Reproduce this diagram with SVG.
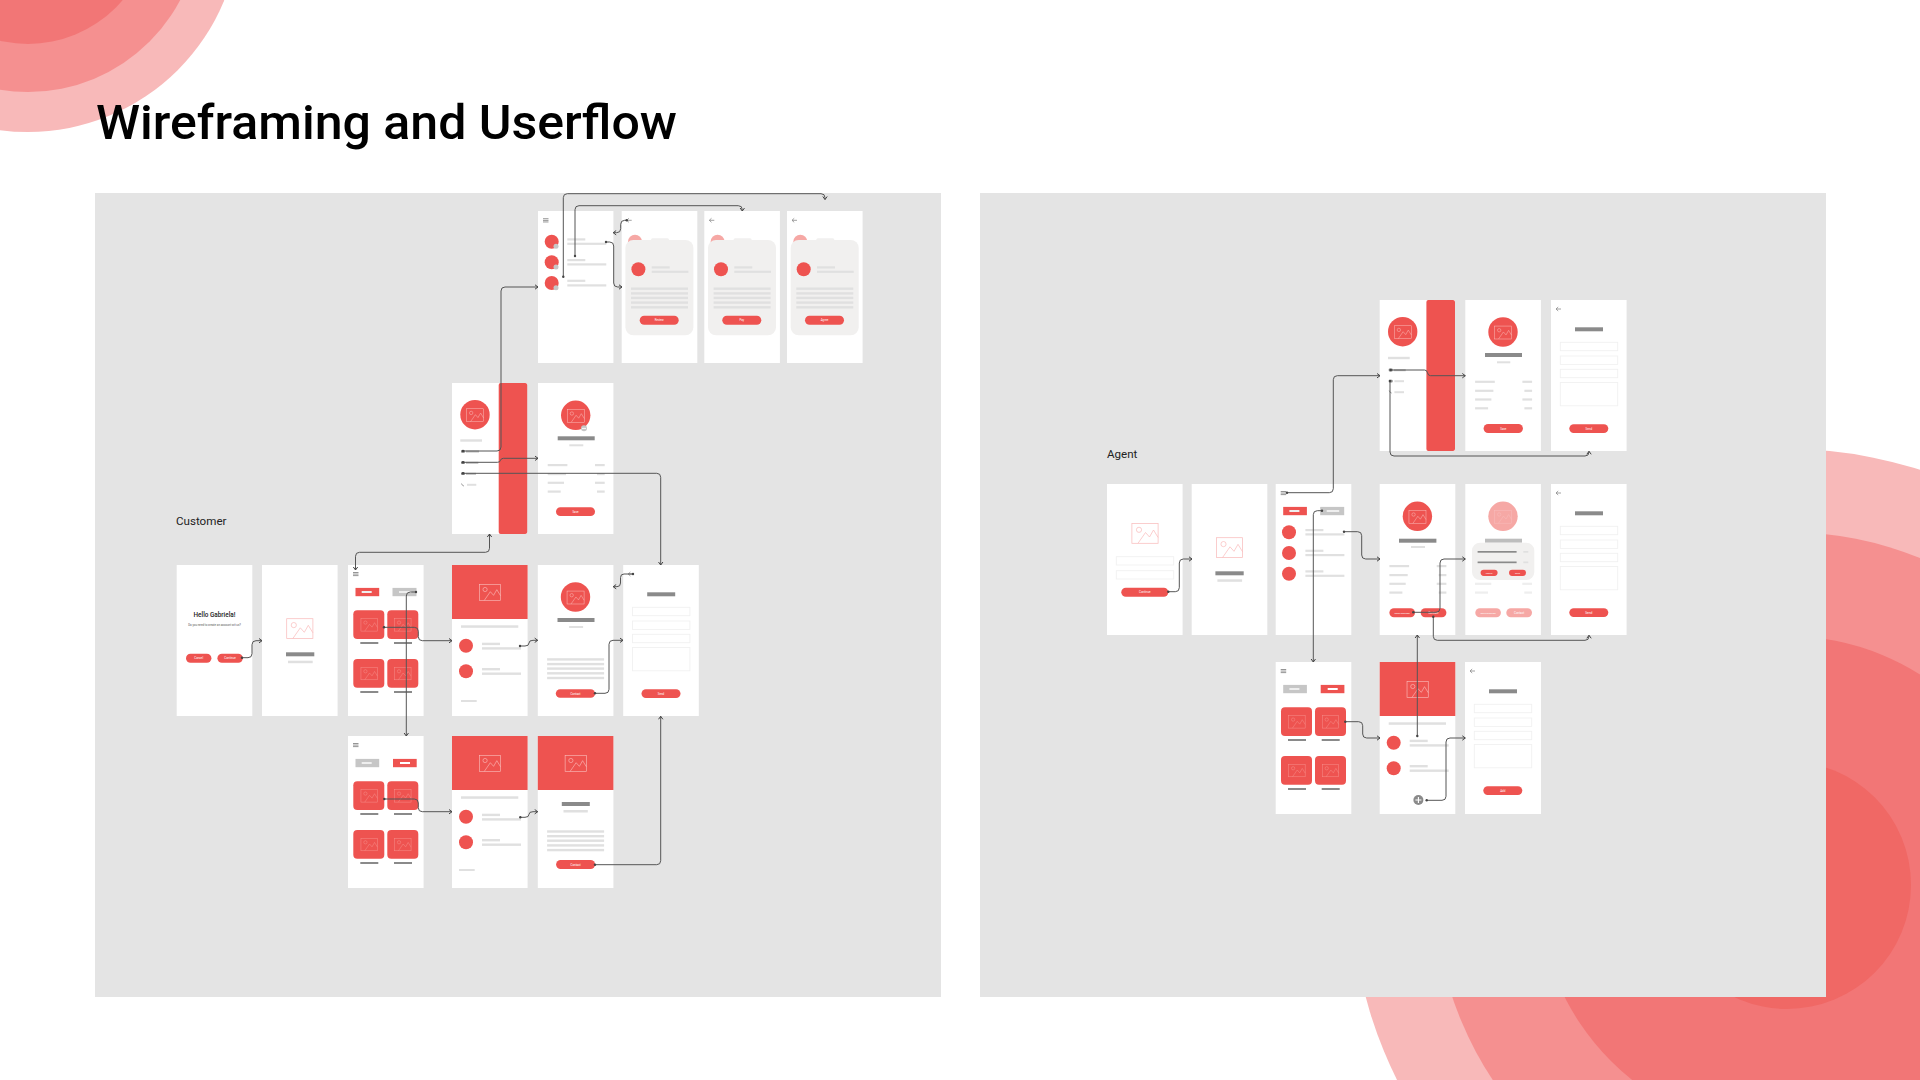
<svg xmlns="http://www.w3.org/2000/svg" width="1920" height="1080" viewBox="0 0 1920 1080">
<style>
text{font-family:"Roboto","Noto Sans",sans-serif}
.scr{fill:#fff}
.red{fill:#EE5350}
.pale{fill:#F6A8A5}
.dk{fill:#8A8A8A}
.md{fill:#BDBDBD}
.gr{fill:#C6C6C6}
.lt{fill:#E0E0E0}
.xl{fill:#EEEEEE}
.wb{fill:#fff}
.card{fill:#F1F0EF}
.inp{fill:#fff;stroke:#F1F1F1;stroke-width:.9}
.ic{fill:none;stroke-width:.75;vector-effect:non-scaling-stroke}
.iw{stroke:#F9BDBD}
.ip{stroke:#FBC0BE}
.id{stroke:#F7918E}
.bt{fill:#fff;font-size:2.9px;text-anchor:middle}
.lab{fill:#222;font-size:11.6px}
.cn{fill:none;stroke:#555;stroke-width:1;marker-end:url(#arr);marker-start:url(#dot)}
</style>
<defs>
<marker id="arr" markerUnits="userSpaceOnUse" markerWidth="6" markerHeight="6" refX="4" refY="3" orient="auto"><path d="M1 .8L4 3L1 5.2" fill="none" stroke="#444" stroke-width="1"/></marker>
<marker id="arrs" markerUnits="userSpaceOnUse" markerWidth="6" markerHeight="6" refX="4" refY="3" orient="auto-start-reverse"><path d="M1 .8L4 3L1 5.2" fill="none" stroke="#444" stroke-width="1"/></marker>
<marker id="dot" markerUnits="userSpaceOnUse" markerWidth="4" markerHeight="4" refX="2" refY="2"><circle cx="2" cy="2" r="1.2" fill="#444"/></marker>
<g id="ico" class="ic"><rect x=".4" y=".4" width="26.2" height="19.9"/><circle cx="7.5" cy="6.8" r="2.6"/><path d="M6.5 20.3L14 9.5L18 14L22 7L26.6 14.5"/></g>
<g id="menu"><rect class="dk" x="0" y="0" width="5.5" height=".9"/><rect class="dk" x="0" y="1.6" width="5.5" height=".9"/><rect class="dk" x="0" y="3.2" width="5.5" height=".9"/></g>
<path id="back" d="M5 0H0M2.2-2L0 0L2.2 2" fill="none" stroke="#8A8A8A" stroke-width=".8"/>
<g id="cards">
<rect class="red" x="5.3" y="45.3" width="31" height="28.7" rx="4"/><rect class="red" x="39.3" y="45.3" width="31" height="28.7" rx="4"/>
<rect class="red" x="5.3" y="94" width="31" height="28.7" rx="4"/><rect class="red" x="39.3" y="94" width="31" height="28.7" rx="4"/>
<use href="#ico" class="id" transform="translate(12.7 53.3) scale(.63)"/><use href="#ico" class="id" transform="translate(46.3 53.3) scale(.63)"/>
<use href="#ico" class="id" transform="translate(12.7 102) scale(.63)"/><use href="#ico" class="id" transform="translate(46.3 102) scale(.63)"/>
<rect class="dk" x="12.3" y="77" width="18" height="2"/><rect class="dk" x="46" y="77" width="18" height="2"/>
<rect class="dk" x="12.3" y="126" width="18" height="2"/><rect class="dk" x="46" y="126" width="18" height="2"/>
</g>
<g id="hdr"><rect class="red" x="0" y="0" width="75.6" height="54"/><use href="#ico" class="ip" transform="translate(27 19) scale(.81)"/></g>
<g id="detail">
<use href="#hdr"/>
<rect class="lt" x="9" y="60.3" width="57.3" height="2.5"/>
<circle class="red" cx="14" cy="80.7" r="7"/><circle class="red" cx="14" cy="106.3" r="7"/>
<rect class="lt" x="30" y="77.7" width="18" height="2.4"/><rect class="lt" x="30" y="82.2" width="39" height="2.4"/>
<rect class="lt" x="30" y="103" width="18" height="2.4"/><rect class="lt" x="30" y="107.5" width="39" height="2.4"/>
</g>
<g id="form">
<rect class="dk" x="24" y="27.3" width="28" height="4"/>
<rect class="inp" x="9.3" y="42.3" width="57.4" height="8.4"/><rect class="inp" x="9.3" y="56" width="57.4" height="8.4"/>
<rect class="inp" x="9.3" y="69.3" width="57.4" height="8.4"/><rect class="inp" x="9.3" y="82.5" width="57.4" height="23.3"/>
<rect class="red" x="18.3" y="124.2" width="39" height="8.8" rx="4.4"/>
</g>
<g id="lines5">
<rect class="lt" x="0" y="0" width="57" height="2.4"/><rect class="lt" x="0" y="4.7" width="57" height="2.4"/><rect class="lt" x="0" y="9.2" width="57" height="2.4"/><rect class="lt" x="0" y="13.9" width="57" height="2.4"/><rect class="lt" x="0" y="18.6" width="57" height="2.4"/>
</g>
<g id="rows">
<rect class="lt" x="0" y="0" width="19.7" height="2.2"/><rect class="lt" x="0" y="9" width="18.3" height="2.2"/><rect class="lt" x="0" y="17.7" width="16.3" height="2.2"/><rect class="lt" x="0" y="26.5" width="13" height="2.2"/>
<rect class="lt" x="47.3" y="0" width="9.7" height="2.2"/><rect class="lt" x="49.3" y="9" width="7.7" height="2.2"/><rect class="lt" x="47.3" y="17.7" width="9.7" height="2.2"/><rect class="lt" x="49.3" y="26.5" width="7.7" height="2.2"/>
</g>
<g id="notif">
<use href="#back" transform="translate(5 9.3)"/>
<circle class="pale" cx="13.3" cy="30.7" r="7"/>
<rect class="card" x="29.3" y="27.3" width="18" height="6" rx="1.5"/>
<rect class="card" x="3.7" y="29" width="68" height="95.3" rx="8"/>
<circle class="red" cx="16.7" cy="58.3" r="7"/>
<rect class="lt" x="30" y="55.3" width="18" height="2.2"/><rect class="lt" x="30" y="59.7" width="36.7" height="2.2"/>
<use href="#lines5" transform="translate(9.3 76.5)"/>
<rect class="red" x="18" y="104.7" width="39" height="9" rx="4.5"/>
</g>
<g id="tabs1"><use href="#menu" transform="translate(5 7)"/><rect class="red" x="7.5" y="22.9" width="23.7" height="8.3"/><rect class="xl" x="13.7" y="26" width="10" height="2"/><rect class="gr" x="44.5" y="22.9" width="24" height="8.3"/><rect class="xl" x="51" y="26" width="12.5" height="2"/></g>
<g id="tabs2"><use href="#menu" transform="translate(5 7)"/><rect class="gr" x="7.5" y="22.9" width="23.7" height="8.3"/><rect class="xl" x="13.7" y="26" width="10" height="2"/><rect class="red" x="45" y="22.9" width="23.7" height="8.3"/><rect class="wb" x="52" y="26" width="10" height="2"/></g>
<g id="pic"><circle class="red" cx="14.7" cy="14.7" r="14.7"/><use href="#ico" class="ip" transform="translate(6 8.5) scale(.65)"/></g>
</defs>

<g id="background">
<circle cx="28" cy="-80" r="212" fill="#F8B9B9"/><circle cx="28" cy="-80" r="172" fill="#F59090"/><circle cx="28" cy="-80" r="124" fill="#F27676"/>
<circle cx="1787" cy="885" r="436" fill="#F8B9B9"/><circle cx="1787" cy="885" r="353" fill="#F59090"/><circle cx="1787" cy="885" r="249" fill="#F27676"/><circle cx="1787" cy="885" r="124" fill="#F06865"/>
</g>
<text id="title" x="96" y="139" font-size="49" font-weight="500" fill="#000" textLength="581" lengthAdjust="spacingAndGlyphs">Wireframing and Userflow</text>
<rect id="panel-customer" x="95" y="193" width="846" height="804" fill="#E4E4E4"/>
<rect id="panel-agent" x="980" y="193" width="846" height="804" fill="#E4E4E4"/>
<text class="lab" x="176" y="525">Customer</text>
<text class="lab" x="1107" y="458">Agent</text>

<g id="c-welcome" transform="translate(176.7 565)"><rect class="scr" width="75.6" height="151"/>
<text x="37.8" y="52.3" font-size="6.4" font-weight="500" text-anchor="middle" fill="#222">Hello Gabriela!</text>
<text x="37.8" y="60.8" font-size="2.9" text-anchor="middle" fill="#555">Do you need to create an account wit us?</text>
<rect class="red" x="9.3" y="88.7" width="25.4" height="9" rx="4.5"/><text class="bt" x="22" y="94.2">Cancel</text>
<rect class="red" x="40.7" y="88.7" width="25.4" height="9" rx="4.5"/><text class="bt" x="53.4" y="94.2">Continue</text></g>

<g id="c-splash" transform="translate(262 565)"><rect class="scr" width="75.6" height="151"/>
<use href="#ico" class="iw" transform="translate(24.3 53.3)"/><rect class="dk" x="24" y="87.3" width="28.3" height="4"/><rect class="lt" x="26" y="95.7" width="24.7" height="2.5"/></g>

<g id="c-home" transform="translate(348 565)"><rect class="scr" width="75.6" height="151"/><use href="#tabs1"/><use href="#cards"/></g>
<g id="c-detail" transform="translate(452 565)"><rect class="scr" width="75.6" height="151"/><use href="#detail"/><rect class="lt" x="9" y="135" width="15.7" height="2"/></g>
<g id="c-profile" transform="translate(537.8 565)"><rect class="scr" width="75.6" height="151"/>
<use href="#pic" transform="translate(23 17.3)"/><rect class="dk" x="19.7" y="53" width="37" height="4"/><rect class="lt" x="31.3" y="61" width="14" height="2"/>
<use href="#lines5" transform="translate(9.3 93.2)"/><rect class="red" x="18" y="124.2" width="39.3" height="8.6" rx="4.3"/><text class="bt" x="37.7" y="129.5">Contact</text></g>
<g id="c-form" transform="translate(623.2 565)"><rect class="scr" width="75.6" height="151"/><use href="#back" transform="translate(5 9)"/><use href="#form"/><text class="bt" x="37.8" y="129.6">Send</text></g>

<g id="c-home2" transform="translate(348 736)"><rect class="scr" width="75.6" height="152"/><use href="#tabs2"/><use href="#cards"/></g>
<g id="c-detail2" transform="translate(452 736)"><rect class="scr" width="75.6" height="152"/><use href="#detail"/><rect class="lt" x="7" y="133" width="15.7" height="2"/></g>
<g id="c-info" transform="translate(537.8 736)"><rect class="scr" width="75.6" height="152"/><use href="#hdr"/>
<rect class="dk" x="24" y="66" width="28" height="4"/><rect class="lt" x="25.7" y="74" width="24.3" height="2.5"/>
<use href="#lines5" transform="translate(9.3 94.3)"/><rect class="red" x="18.3" y="124" width="39" height="9" rx="4.5"/><text class="bt" x="37.8" y="129.5">Contact</text></g>

<g id="c-drawer" transform="translate(452 383)"><rect class="scr" width="75" height="151"/>
<rect class="red" x="46.7" y="0" width="28.5" height="151" rx="2"/>
<use href="#pic" transform="translate(8.3 17)"/><rect class="lt" x="8.3" y="56.3" width="21.7" height="2.4"/>
<rect class="md" x="14" y="67.5" width="13" height="2"/><rect class="md" x="14" y="78.8" width="12.3" height="2"/><rect class="md" x="14" y="89.8" width="10" height="2"/><rect class="lt" x="15" y="100.8" width="9.3" height="2"/>
<rect class="dk" x="9" y="67" width="4" height="2.8" rx="1"/><rect class="dk" x="9" y="78.3" width="4" height="2.8" rx="1"/><rect class="dk" x="9" y="89.3" width="4" height="2.8" rx="1"/>
<path d="M9.5 100.5q.3 2 2.5 2.6" fill="none" stroke="#8A8A8A" stroke-width=".8"/></g>
<g id="c-edit" transform="translate(538 383)"><rect class="scr" width="75.4" height="151"/>
<use href="#pic" transform="translate(23 17.6)"/><circle class="gr" cx="46" cy="45.3" r="3"/><rect class="wb" x="44" y="44.9" width="4" height=".9"/>
<rect class="dk" x="19.7" y="53.3" width="37" height="4"/><rect class="lt" x="31.3" y="61.3" width="14" height="2"/>
<use href="#rows" transform="translate(9.7 81)"/><rect class="red" x="18" y="124.3" width="39" height="8.8" rx="4.4"/><text class="bt" x="37.5" y="129.7">Save</text></g>

<g id="c-list" transform="translate(538 211)"><rect class="scr" width="75.4" height="152"/><use href="#menu" transform="translate(5 7.3)"/>
<circle class="red" cx="13.7" cy="30.7" r="7"/><circle class="red" cx="13.7" cy="51.3" r="7"/><circle class="red" cx="13.7" cy="72" r="7"/>
<circle class="gr" cx="18" cy="35.3" r="2.5"/><circle class="gr" cx="18" cy="56" r="2.5"/><circle class="gr" cx="18" cy="76.7" r="2.5"/>
<rect class="lt" x="29.3" y="27.3" width="18" height="2.2"/><rect class="lt" x="29.3" y="31.7" width="39" height="2.2"/>
<rect class="lt" x="29.3" y="48" width="18" height="2.2"/><rect class="lt" x="29.3" y="52.3" width="39" height="2.2"/>
<rect class="lt" x="29.3" y="68.7" width="18" height="2.2"/><rect class="lt" x="29.3" y="73.3" width="39" height="2.2"/></g>
<g id="c-review" transform="translate(621.7 211)"><rect class="scr" width="75.6" height="152"/><use href="#notif"/><text class="bt" x="37.5" y="110.3">Review</text></g>
<g id="c-pay" transform="translate(704.3 211)"><rect class="scr" width="75.6" height="152"/><use href="#notif"/><text class="bt" x="37.5" y="110.3">Pay</text></g>
<g id="c-agree" transform="translate(787 211)"><rect class="scr" width="75.6" height="152"/><use href="#notif"/><text class="bt" x="37.5" y="110.3">Agree</text></g>

<g id="a-drawer" transform="translate(1379.7 300)"><rect class="scr" width="75.3" height="151"/>
<rect class="red" x="46.7" y="0" width="28.6" height="151" rx="2"/>
<use href="#pic" transform="translate(8.3 17)"/><rect class="lt" x="8.3" y="56.8" width="21.7" height="2.4"/>
<rect class="md" x="14" y="69.2" width="12" height="2"/><rect class="lt" x="14.7" y="80.2" width="9.6" height="2"/><rect class="lt" x="14.7" y="91.2" width="9.6" height="2"/>
<rect class="dk" x="9" y="68.6" width="4" height="2.8" rx="1"/><rect class="dk" x="9" y="79.7" width="4" height="2.8" rx="1"/>
<path d="M9.5 90.5q.3 2 2.5 2.6" fill="none" stroke="#8A8A8A" stroke-width=".8"/></g>
<g id="a-edit" transform="translate(1465.3 300)"><rect class="scr" width="75.6" height="151"/>
<use href="#pic" transform="translate(23 17.3)"/><rect class="dk" x="19.7" y="53" width="37" height="4"/><rect class="lt" x="31.7" y="61.3" width="13.3" height="2"/>
<use href="#rows" transform="translate(9.8 80.7)"/><rect class="red" x="18.3" y="124" width="39.3" height="9" rx="4.5"/><text class="bt" x="38" y="129.5">Save</text></g>
<g id="a-form1" transform="translate(1551 300)"><rect class="scr" width="75.6" height="151"/><use href="#back" transform="translate(5 9)"/><use href="#form"/><text class="bt" x="37.8" y="129.6">Send</text></g>

<g id="a-login" transform="translate(1107 484)"><rect class="scr" width="75.6" height="151"/>
<use href="#ico" class="iw" transform="translate(24.5 39)"/>
<rect class="inp" x="9.3" y="72.7" width="57.4" height="8.3"/><rect class="inp" x="9.3" y="86.7" width="57.4" height="8.3"/>
<rect class="red" x="14.3" y="103.7" width="47" height="9" rx="4.5"/><text class="bt" x="37.8" y="109.2">Continue</text></g>
<g id="a-splash" transform="translate(1191.7 484)"><rect class="scr" width="75.6" height="151"/>
<use href="#ico" class="iw" transform="translate(24.3 53.3)"/><rect class="dk" x="23.7" y="87.3" width="28.3" height="4"/><rect class="lt" x="25.7" y="95.3" width="24.7" height="2.5"/></g>
<g id="a-list" transform="translate(1275.7 484)"><rect class="scr" width="75.6" height="151"/><use href="#tabs1"/>
<circle class="red" cx="13.3" cy="48.3" r="7"/><circle class="red" cx="13.3" cy="69" r="7"/><circle class="red" cx="13.3" cy="89.7" r="7"/>
<rect class="lt" x="29.7" y="45" width="18" height="2.2"/><rect class="lt" x="29.7" y="49.3" width="39" height="2.2"/>
<rect class="lt" x="29.7" y="65.7" width="18" height="2.2"/><rect class="lt" x="29.7" y="70" width="39" height="2.2"/>
<rect class="lt" x="29.7" y="86.3" width="18" height="2.2"/><rect class="lt" x="29.7" y="90.7" width="39" height="2.2"/></g>
<g id="a-client" transform="translate(1379.7 484)"><rect class="scr" width="75.6" height="151"/>
<use href="#pic" transform="translate(23 17.6)"/><rect class="dk" x="19.3" y="54.7" width="37.4" height="4"/><rect class="lt" x="31.3" y="62" width="14" height="2"/>
<use href="#rows" transform="translate(9.7 81)"/>
<rect class="red" x="9.7" y="124.3" width="25.6" height="9" rx="4.5"/><text class="bt" x="22.5" y="129.7" style="font-size:2.4px">Send reminder</text>
<rect class="red" x="41" y="124.3" width="25.7" height="9" rx="4.5"/><text class="bt" x="53.8" y="129.7">Contact</text></g>
<g id="a-modal" transform="translate(1465.3 484)"><rect class="scr" width="75.6" height="151"/>
<circle class="pale" cx="37.7" cy="32.3" r="14.7"/><use href="#ico" class="iw" transform="translate(29 26) scale(.65)"/>
<rect class="md" x="19.7" y="54.7" width="37" height="4"/>
<rect class="xl" x="9.7" y="98.7" width="16.3" height="2.2"/><rect class="xl" x="9.7" y="107.5" width="13" height="2.2"/><rect class="xl" x="57" y="98.7" width="9.7" height="2.2"/><rect class="xl" x="59" y="107.5" width="7.7" height="2.2"/>
<rect class="card" x="6.7" y="58.7" width="62.3" height="37.3" rx="8"/>
<rect class="dk" x="12.3" y="67" width="39" height="1.7"/><rect class="dk" x="12.3" y="77.5" width="39" height="1.7"/><rect class="lt" x="58" y="67" width="5" height="1.7"/><rect class="lt" x="58" y="77.5" width="5" height="1.7"/>
<rect class="red" x="15.3" y="85.7" width="17" height="6.2" rx="3.1"/><text class="bt" x="23.8" y="89.8" style="font-size:2.2px">Cancel</text>
<rect class="red" x="43.7" y="85.7" width="17" height="6.2" rx="3.1"/><text class="bt" x="52.2" y="89.8" style="font-size:2.2px">Send</text>
<rect class="pale" x="10" y="124.3" width="25.6" height="9" rx="4.5"/><text class="bt" x="22.8" y="129.7" style="font-size:2.4px">Send reminder</text>
<rect class="pale" x="41" y="124.3" width="25.7" height="9" rx="4.5"/><text class="bt" x="53.8" y="129.7">Contact</text></g>
<g id="a-form2" transform="translate(1551 484)"><rect class="scr" width="75.6" height="151"/><use href="#back" transform="translate(5 9)"/><use href="#form"/><text class="bt" x="37.8" y="129.8" style="font-size:3.2px">Send</text></g>

<g id="a-home" transform="translate(1275.7 662)"><rect class="scr" width="75.6" height="152"/><use href="#tabs2"/><use href="#cards"/></g>
<g id="a-detail" transform="translate(1379.7 662)"><rect class="scr" width="75.6" height="152"/><use href="#detail"/>
<circle cx="38.7" cy="138" r="5" fill="#8A8A8A"/><path d="M35.7 138h6M38.7 135v6" stroke="#fff" stroke-width="1.1"/></g>
<g id="a-form3" transform="translate(1465 662)"><rect class="scr" width="76" height="152"/><use href="#back" transform="translate(5 9)"/><use href="#form"/><text class="bt" x="37.8" y="129.6">Add</text></g>

<g id="connectors">
<path class="cn" d="M242 657.7H248q4 0 4-4V644.7q0-4 4-4H262"/>
<path class="cn" style="marker-start:url(#arrs)" d="M489.5 534V548.3q0 4-4 4H359.5q-4 0-4 4V570"/>
<path class="cn" d="M416 592H410.3q-4 0-4 4V736"/>
<path class="cn" d="M384 627.3H414.3q4 0 4 4V636.7q0 4 4 4H452"/>
<path class="cn" d="M520 646H525q4 0 4-3q0-2.7 4-2.7H537.7"/>
<path class="cn" d="M595 693.3H605q4 0 4-4V644.3q0-4 4-4H623"/>
<path class="cn" d="M633 574H624q-3.5 0-3.5 3.5V583q0 3.7-3.5 3.7H613.2"/>
<path class="cn" d="M595 864.7H656.7q4 0 4-4V716.3"/>
<path class="cn" d="M384.3 799H414.3q4 0 4 4V807.7q0 4 4 4H452"/>
<path class="cn" d="M520.3 817.3H525q4 0 4-3q0-2.6 4-2.6H537.7"/>
<path class="cn" d="M463 451H497q4 0 4-4V291q0-4 4-4H538"/>
<path class="cn" d="M463 462.3H497.5q2.5 0 3-2q.5-2 3-2H538"/>
<path class="cn" d="M463 473.3H656.7q4 0 4 4V565"/>
<path class="cn" d="M563.3 276.7V197.7q0-4 4-4H821q4 0 4 4V199.5"/>
<path class="cn" d="M575 256V209.7q0-4 4-4H738.3q4 0 4 4V211"/>
<path class="cn" d="M606 242H609.7q4 0 4 4V283q0 4 4 4H622"/>
<path class="cn" d="M626.7 220.3H624.7q-4 0-4 4V228.7q0 4-4 4H613.2"/>

<path class="cn" d="M1168.3 591.7H1175.3q4 0 4-4V563q0-4 4-4H1192"/>
<path class="cn" d="M1287 492.7H1329.3q4 0 4-4V379.7q0-4 4-4H1380"/>
<path class="cn" d="M1322 510.7H1317.3q-4 0-4 4V662"/>
<path class="cn" d="M1344 531.7H1357.7q4 0 4 4V555q0 4 4 4H1380"/>
<path class="cn" d="M1390.7 370H1424.5q2.5 0 3 2.8q.5 2.9 3 2.9H1465.3"/>
<path class="cn" d="M1390 381V452q0 4 4 4H1585q4 0 4-4V451.3"/>
<path class="cn" d="M1413.3 612.3H1436q4 0 4-4V563q0-4 4-4H1465.3"/>
<path class="cn" d="M1433.3 616.7V636.3q0 4 4 4H1585q4 0 4-4V635.3"/>
<path class="cn" d="M1417.3 736V635"/>
<path class="cn" d="M1345.3 721.7H1358.7q4 0 4 4V734q0 4 4 4H1380"/>
<path class="cn" d="M1426.7 800.3H1442q4 0 4-4V742q0-4 4-4H1465.3"/>
</g>
</svg>
